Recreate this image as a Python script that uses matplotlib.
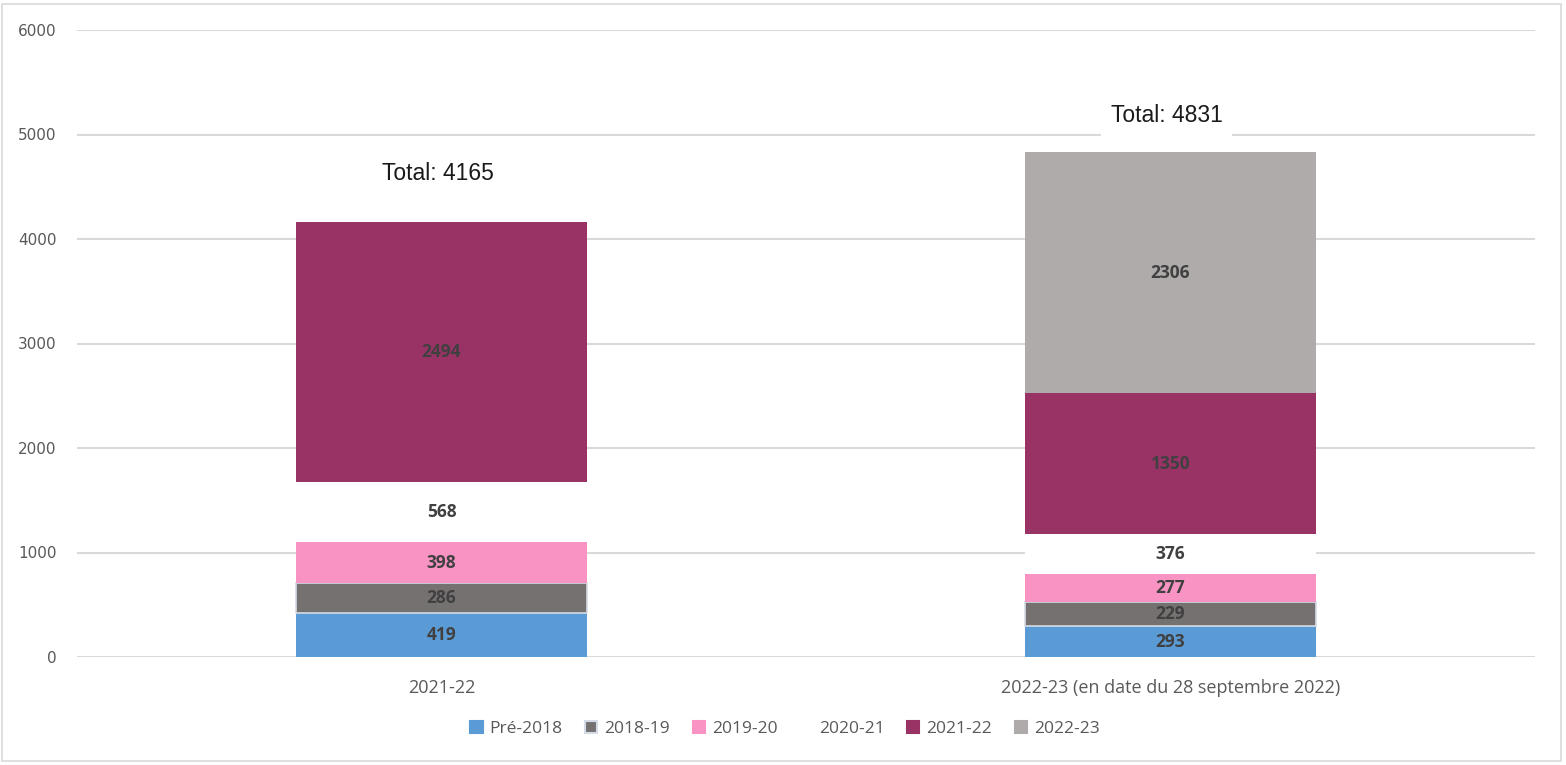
import matplotlib
matplotlib.use('Agg')
import matplotlib.pyplot as plt
import numpy as np
from matplotlib.patches import Rectangle

# Data
categories = ['2021-22', '2022-23 (en date du 28 septembre 2022)']
series_names = ['Pré-2018', '2018-19', '2019-20', '2020-21', '2021-22', '2022-23']
pre_2018 = [419, 293]
y_2018_19 = [286, 229]
y_2019_20 = [398, 277]
y_2020_21 = [568, 376]
y_2021_22 = [2494, 1350]
y_2022_23 = [0, 2306]
totals = [4165, 4831]

colors = ['#5B9BD5', '#767171', '#F993C3', '#FFFFFF', '#993366', '#AFABAB']
series = [pre_2018, y_2018_19, y_2019_20, y_2020_21, y_2021_22, y_2022_23]

fig = plt.figure(figsize=(15.66, 7.65), dpi=100)
ax = fig.add_axes([77 / 1566, 1 - 657 / 765, 1458 / 1566, 627 / 765])

x = np.arange(len(categories))
bottom = np.zeros(len(categories))
for name, vals, col in zip(series_names, series, colors):
    vals = np.array(vals, dtype=float)
    edge = '#D6DCE5' if name == '2018-19' else col
    lw = 1.2 if name == '2018-19' else 0
    ax.bar(x, vals, 0.4, bottom=bottom, color=col, edgecolor=edge,
           linewidth=lw, label=name, zorder=3)
    for i, v in enumerate(vals):
        if v > 0:
            ax.text(x[i], bottom[i] + v / 2, f'{int(v)}', ha='center', va='center',
                    fontsize=12.5, fontweight='bold', color='#404040',
                    family=['Open Sans', 'DejaVu Sans'], zorder=4)
    bottom += vals

# totals above each bar (offsets as placed in the source chart)
label_gap = [465, 350]
for i, t in enumerate(totals):
    ax.text(x[i] - 0.005, t + label_gap[i], f'Total: {t}', ha='center', va='center',
            fontsize=16.5, color='#1a1a1a',
            family=['Liberation Sans Narrow', 'Liberation Sans'],
            bbox=dict(facecolor='white', edgecolor='none', pad=7), zorder=5)

ax.set_xlim(-0.5, 1.5)
ax.set_ylim(0, 6000)
ax.set_yticks(np.arange(0, 6001, 1000))
ax.set_xticks(x)
ax.set_xticklabels(categories, fontsize=13, color='#595959', family=['Open Sans', 'DejaVu Sans'])
ax.tick_params(axis='y', labelsize=11, labelcolor='#595959', length=0, pad=14.5)
ax.tick_params(axis='x', length=0, pad=16)
ax.grid(axis='y', color='#D9D9D9', linewidth=1.5, zorder=0)
for s in ax.spines.values():
    s.set_visible(False)

handles = [Rectangle((0, 0), 1, 1, facecolor=c,
                     edgecolor='#D6DCE5' if n == '2018-19' else c, linewidth=1.5)
           for n, c in zip(series_names, colors)]
fig.legend(handles, series_names, loc='center', bbox_to_anchor=(785 / 1566, 1 - 729 / 765),
           ncol=6, frameon=False, handlelength=0.7, handleheight=0.7,
           handletextpad=0.4, columnspacing=1.3, labelcolor='#595959',
           prop={'family': ['Open Sans', 'DejaVu Sans'], 'size': 12.5})

# outer frame
fig.add_artist(Rectangle((2 / 1566, 4 / 765), 1559 / 1566, 757 / 765, transform=fig.transFigure,
                         fill=False, edgecolor='#D9D9D9', linewidth=1.2))

fig.savefig('out.png', dpi=100)
